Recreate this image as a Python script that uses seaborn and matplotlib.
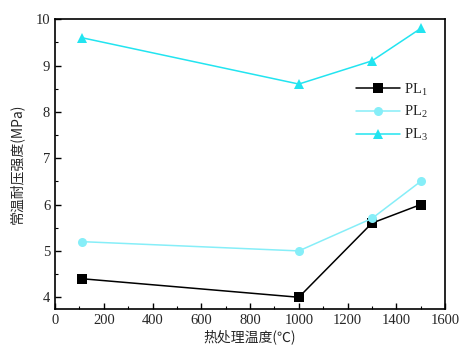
import matplotlib
matplotlib.use('Agg')
import matplotlib.pyplot as plt
from matplotlib.ticker import MultipleLocator
import seaborn as sns
import pandas as pd

# data
temps = [110, 1000, 1300, 1500]
pl1 = [4.4, 4.0, 5.6, 6.0]
pl2 = [5.2, 5.0, 5.7, 6.5]
pl3 = [9.6, 8.6, 9.1, 9.8]
labels = ['PL$_1$', 'PL$_2$', 'PL$_3$']

df = pd.DataFrame({'temp': temps * 3,
                   'strength': pl1 + pl2 + pl3,
                   'sample': [labels[0]] * 4 + [labels[1]] * 4 + [labels[2]] * 4})

sns.set_style('ticks')
plt.rcParams['font.family'] = ['Liberation Serif', 'Noto Sans CJK SC']
plt.rcParams['mathtext.fontset'] = 'custom'
plt.rcParams['mathtext.rm'] = 'Liberation Serif'
plt.rcParams['mathtext.it'] = 'Liberation Serif'

fig = plt.figure(figsize=(4.7, 3.55), dpi=100)
ax = fig.add_axes([0.117, 0.130, 0.830, 0.816])

palette = {labels[0]: 'black', labels[1]: '#86eef8', labels[2]: '#22e4f0'}
markers = {labels[0]: 's', labels[1]: 'o', labels[2]: '^'}
sns.lineplot(data=df, x='temp', y='strength', hue='sample', style='sample',
             palette=palette, markers=markers, dashes=False, markersize=6.5,
             markeredgewidth=0, linewidth=1.1, ax=ax)

ax.set_xlim(0, 1600)
ax.set_ylim(3.75, 10)
ax.xaxis.set_major_locator(MultipleLocator(200))
ax.xaxis.set_minor_locator(MultipleLocator(100))
ax.yaxis.set_major_locator(MultipleLocator(1))
ax.yaxis.set_minor_locator(MultipleLocator(0.5))
ax.tick_params(which='both', direction='in', labelsize=10.5, color='black')
ax.tick_params(which='major', length=4, width=1)
ax.tick_params(which='minor', length=2.5, width=0.8)
for s in ax.spines.values():
    s.set_linewidth(1.2)
    s.set_color('black')

ax.set_xlabel('热处理温度(℃)', fontsize=10, family=['Noto Sans CJK SC', 'DejaVu Sans'], labelpad=2)
ax.set_ylabel('常温耐压强度(MPa)', fontsize=10, family=['Noto Sans CJK SC', 'DejaVu Sans'], labelpad=8)

ax.legend(loc='upper right', bbox_to_anchor=(0.99, 0.83), frameon=False,
          fontsize=10.5, handlelength=3, labelspacing=0.45, handletextpad=0.3)

fig.savefig('out.png', dpi=100)
